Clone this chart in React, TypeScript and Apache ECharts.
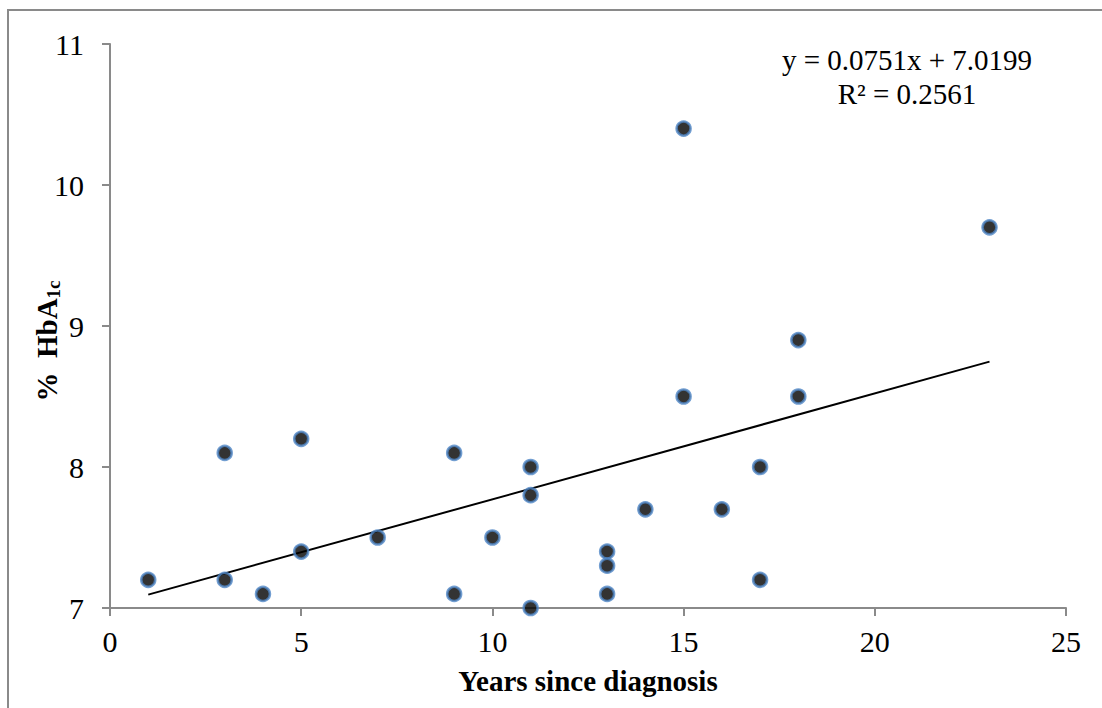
import React, { useEffect, useRef } from "react";
import * as echarts from "echarts";

const yearsSinceDiagnosis = [1, 3, 3, 4, 5, 5, 7, 9, 9, 10, 11, 11, 11, 13, 13, 13, 14, 15, 15, 16, 17, 17, 18, 18, 23];
const hba1cValues = [7.2, 8.1, 7.2, 7.1, 8.2, 7.4, 7.5, 8.1, 7.1, 7.5, 8.0, 7.8, 7.0, 7.4, 7.3, 7.1, 7.7, 10.4, 8.5, 7.7, 8.0, 7.2, 8.9, 8.5, 9.7];
const trendSlope = 0.0751;
const trendIntercept = 7.0199;
const trendXRange = [1, 23];
const equationLines = ["y = 0.0751x + 7.0199", "R² = 0.2561"];
const xTitle = "Years since diagnosis";

const FONT = "'Liberation Serif', 'Times New Roman', serif";

export default function App() {
  const ref = useRef<HTMLDivElement>(null);
  useEffect(() => {
    if (!ref.current) return;
    const chart = echarts.init(ref.current, undefined, { renderer: "svg" });
    const points = yearsSinceDiagnosis.map((x, i) => [x, hba1cValues[i]]);
    const trend = trendXRange.map((x) => [x, trendIntercept + trendSlope * x]);
    chart.setOption({
      animation: false,
      backgroundColor: "#ffffff",
      grid: { left: 110, top: 44, width: 956, height: 564, containLabel: false },
      xAxis: {
        type: "value",
        min: 0,
        max: 25,
        interval: 5,
        axisLine: { show: true, lineStyle: { color: "#8a8a8a", width: 2 } },
        axisTick: { show: true, length: 8, lineStyle: { color: "#8a8a8a", width: 2 } },
        axisLabel: { color: "#000", fontSize: 30, fontFamily: FONT, margin: 18 },
        splitLine: { show: false },
      },
      yAxis: {
        type: "value",
        min: 7,
        max: 11,
        interval: 1,
        axisLine: { show: true, lineStyle: { color: "#8a8a8a", width: 2 } },
        axisTick: { show: true, length: 8, lineStyle: { color: "#8a8a8a", width: 2 } },
        axisLabel: { color: "#000", fontSize: 30, fontFamily: FONT, margin: 26 },
        splitLine: { show: false },
      },
      series: [
        {
          type: "line",
          data: trend,
          symbol: "none",
          lineStyle: { color: "#000", width: 2 },
          z: 2,
        },
        {
          type: "scatter",
          data: points,
          symbol: "circle",
          symbolSize: 14,
          itemStyle: { color: "#000", borderColor: "#4f86c6", borderWidth: 2.5 },
          z: 3,
        },
      ],
      graphic: [
        {
          type: "rect",
          shape: { x: 8, y: 10, width: 1200, height: 800 },
          style: { fill: "none", stroke: "#8a8a8a", lineWidth: 2 },
          silent: true,
        },
        {
          type: "text",
          x: 907,
          y: 60,
          style: {
            text: equationLines[0],
            fontSize: 29,
            fontFamily: FONT,
            fill: "#000",
            align: "center",
            verticalAlign: "middle",
          },
        },
        {
          type: "text",
          x: 907,
          y: 94,
          style: {
            text: equationLines[1],
            fontSize: 29,
            fontFamily: FONT,
            fill: "#000",
            align: "center",
            verticalAlign: "middle",
          },
        },
        {
          type: "text",
          x: 588,
          y: 681,
          style: {
            text: xTitle,
            fontSize: 29,
            fontWeight: "bold",
            fontFamily: FONT,
            fill: "#000",
            align: "center",
            verticalAlign: "middle",
          },
        },
        {
          type: "text",
          x: 47,
          y: 341,
          rotation: Math.PI / 2,
          style: {
            text: "{a|%  HbA}{b|1c}",
            align: "center",
            verticalAlign: "middle",
            rich: {
              a: { fontSize: 29, fontWeight: "bold", fontFamily: FONT, fill: "#000", lineHeight: 32, verticalAlign: "middle" },
              b: { fontSize: 19, fontWeight: "bold", fontFamily: FONT, fill: "#000", lineHeight: 32, verticalAlign: "bottom", padding: [15, 0, 0, 0] },
            },
          },
        },
      ],
    });
    return () => chart.dispose();
  }, []);
  return <div ref={ref} style={{ position: "fixed", left: 0, top: 0, width: 1102, height: 708 }} />;
}
